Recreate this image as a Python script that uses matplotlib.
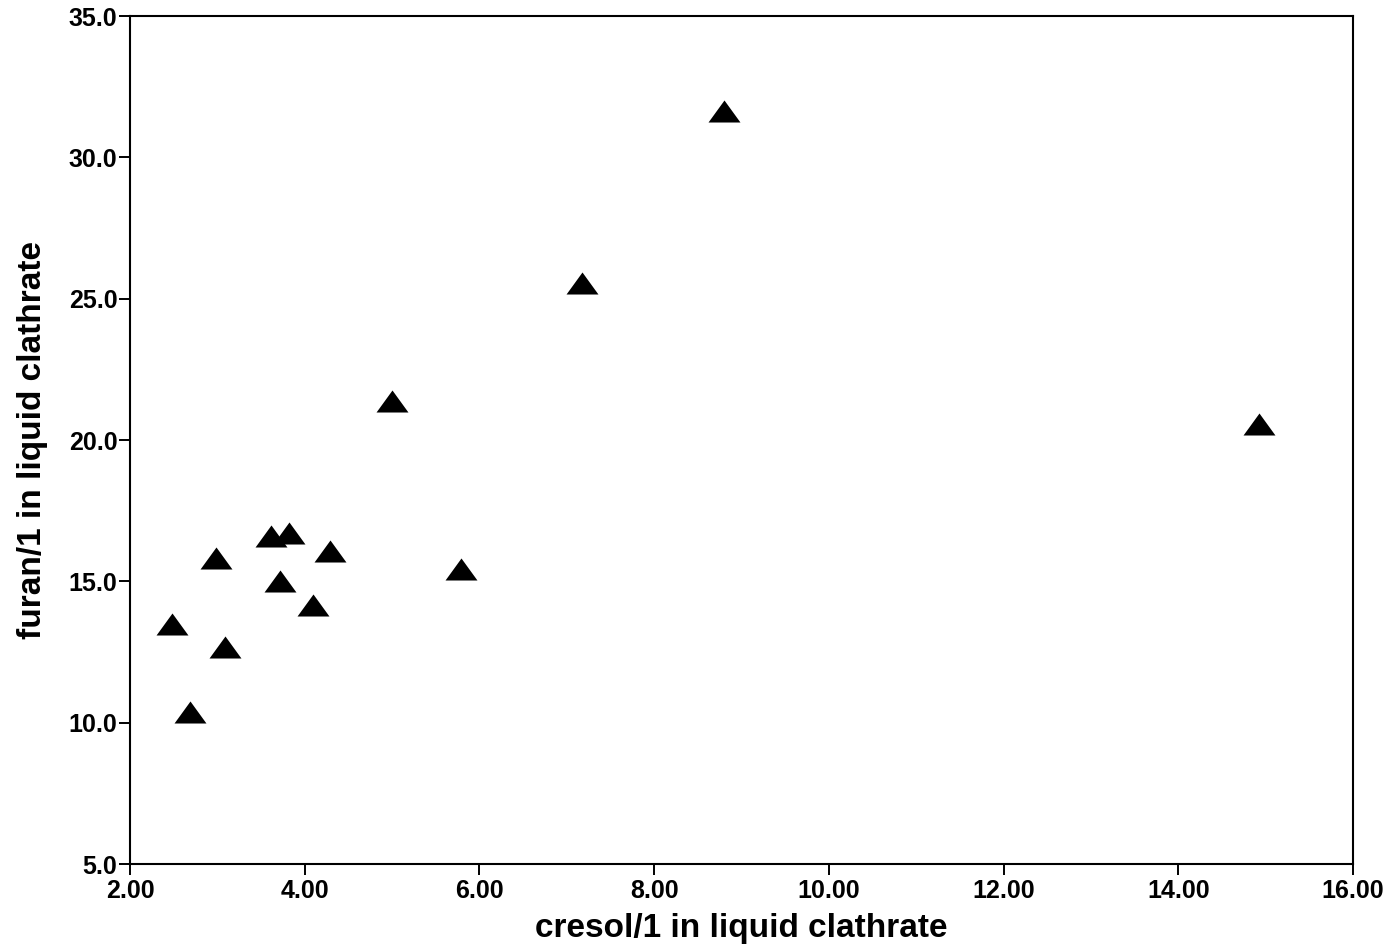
import matplotlib
matplotlib.use("Agg")
import matplotlib.pyplot as plt

plt.rcParams['font.family'] = ['Liberation Sans', 'DejaVu Sans']

cresol = [2.48, 2.69, 2.98, 3.09, 3.61, 3.82, 3.72, 4.09, 4.29, 5.00, 5.79, 7.17, 8.80, 14.92]
furan = [13.48, 10.39, 15.81, 12.68, 16.61, 16.70, 15.02, 14.17, 16.09, 21.38, 15.42, 25.55, 31.64, 20.56]

x_ticks = [2, 4, 6, 8, 10, 12, 14, 16]
y_ticks = [5, 10, 15, 20, 25, 30, 35]

fig = plt.figure(figsize=(14, 9.51), dpi=100)
ax = fig.add_axes([130/1400, (951-864)/951, 1223/1400, 848/951])

tri = [(0, 1), (-1.45, -1), (1.45, -1)]
ax.plot(cresol, furan, linestyle='none', marker=tri, markersize=23,
        color='black', markeredgewidth=0)

ax.set_xlim(2, 16)
ax.set_ylim(5, 35)
ax.set_xticks(x_ticks)
ax.set_xticklabels([f"{v:.2f}" for v in x_ticks])
ax.set_yticks(y_ticks)
ax.set_yticklabels([f"{v:.1f}" for v in y_ticks])

for s in ax.spines.values():
    s.set_linewidth(1.5)
ax.tick_params(direction='out', length=8, width=1.4, labelsize=18)
ax.tick_params(axis='x', pad=3)
ax.tick_params(axis='y', pad=1)
for lab in ax.get_xticklabels() + ax.get_yticklabels():
    lab.set_fontweight('bold')

ax.set_xlabel('cresol/1 in liquid clathrate', fontsize=24, fontweight='bold',
              va='center', ha='center')
ax.xaxis.set_label_coords(0.5, -0.0755)
ax.set_ylabel('furan/1 in liquid clathrate', fontsize=24, fontweight='bold',
              va='center', ha='center')
ax.yaxis.set_label_coords(-0.080, 0.5)

fig.savefig('out.png', dpi=100)
